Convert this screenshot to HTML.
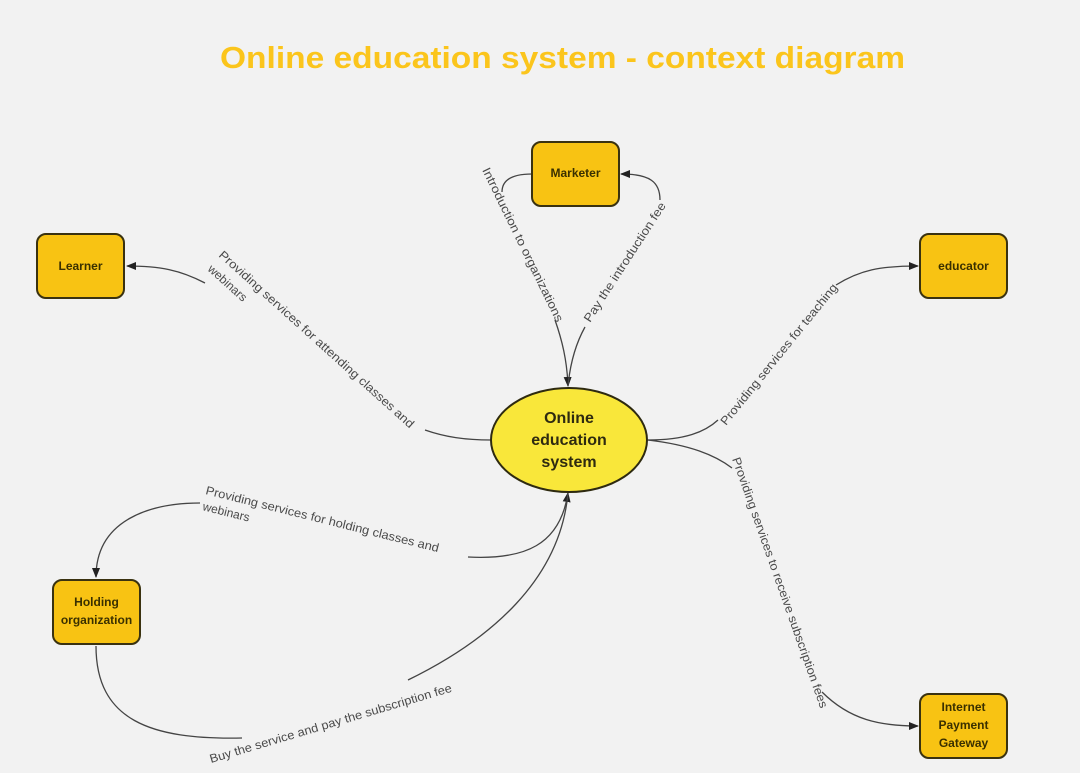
<!DOCTYPE html>
<html><head><meta charset="utf-8"><style>
html,body{margin:0;padding:0;background:#f2f2f2;}
svg{display:block;font-family:"Liberation Sans","DejaVu Sans",sans-serif;}
.lbl{font-size:12px;fill:#4a4a4a;}
.box{fill:#f8c313;stroke:#3a3210;stroke-width:2;}
.bt{font-size:12px;font-weight:bold;fill:#3a3000;text-anchor:middle;}
.ln{fill:none;stroke:#444;stroke-width:1.3;}
</style></head><body>
<svg width="1080" height="773" viewBox="0 0 1080 773">
<defs><marker id="a" markerWidth="10" markerHeight="8" refX="9" refY="4" orient="auto" markerUnits="userSpaceOnUse"><path d="M0,0 L10,4 L0,8 z" fill="#222"/></marker></defs>
<rect width="1080" height="773" fill="#f2f2f2"/>
<text x="220" y="68" font-size="31" font-weight="bold" fill="#fbc51c" textLength="685" lengthAdjust="spacingAndGlyphs">Online education system - context diagram</text>

<!-- connectors -->
<path class="ln" d="M491,440 C465,440 445,437 425,430"/>
<path class="ln" d="M205,283 C180,270 160,266 127,266" marker-end="url(#a)"/>
<path class="ln" d="M532,174 C512,174 502,180 502,192"/>
<path class="ln" d="M555,320 C562,340 567,360 568,386" marker-end="url(#a)"/>
<path class="ln" d="M585,327 C575,345 570,365 568,386"/>
<path class="ln" d="M660,200 C660,182 650,174 621,174" marker-end="url(#a)"/>
<path class="ln" d="M648,440 C685,440 705,432 718,420"/>
<path class="ln" d="M836,285 C860,270 880,266 918,266" marker-end="url(#a)"/>
<path class="ln" d="M648,440 C690,445 715,455 732,468"/>
<path class="ln" d="M822,692 C850,720 880,726 918,726" marker-end="url(#a)"/>
<path class="ln" d="M468,557 C525,560 560,545 568,493" marker-end="url(#a)"/>
<path class="ln" d="M200,503 C150,503 96,520 96,577" marker-end="url(#a)"/>
<path class="ln" d="M96,646 C96,720 150,740 242,738"/>
<path class="ln" d="M408,680 C490,640 560,580 568,493"/>

<!-- labels -->
<text class="lbl" transform="translate(218,256) rotate(42)" textLength="258" lengthAdjust="spacingAndGlyphs">Providing services for attending classes and</text>
<text class="lbl" transform="translate(207,270) rotate(42)">webinars</text>
<text class="lbl" transform="translate(482,170) rotate(64)" textLength="170" lengthAdjust="spacingAndGlyphs">Introduction to organizations</text>
<text class="lbl" transform="translate(590,323) rotate(-57)" textLength="140" lengthAdjust="spacingAndGlyphs">Pay the introduction fee</text>
<text class="lbl" transform="translate(726,426) rotate(-51)" textLength="178" lengthAdjust="spacingAndGlyphs">Providing services for teaching</text>
<text class="lbl" transform="translate(732,459) rotate(70.5)" textLength="265" lengthAdjust="spacingAndGlyphs">Providing services to receive subscription fees</text>
<text class="lbl" transform="translate(205,494) rotate(14)" textLength="240" lengthAdjust="spacingAndGlyphs">Providing services for holding classes and</text>
<text class="lbl" transform="translate(202,510) rotate(14)">webinars</text>
<text class="lbl" transform="translate(211,763) rotate(-16.5)" textLength="252" lengthAdjust="spacingAndGlyphs">Buy the service and pay the subscription fee</text>

<!-- nodes -->
<rect class="box" x="532" y="142" width="87" height="64" rx="9"/>
<text class="bt" x="575.5" y="177">Marketer</text>
<rect class="box" x="37" y="234" width="87" height="64" rx="9"/>
<text class="bt" x="80.5" y="270">Learner</text>
<rect class="box" x="920" y="234" width="87" height="64" rx="9"/>
<text class="bt" x="963.5" y="270">educator</text>
<rect class="box" x="53" y="580" width="87" height="64" rx="9"/>
<text class="bt" x="96.5" y="606">Holding</text>
<text class="bt" x="96.5" y="624">organization</text>
<rect class="box" x="920" y="694" width="87" height="64" rx="9"/>
<text class="bt" x="963.5" y="711">Internet</text>
<text class="bt" x="963.5" y="729">Payment</text>
<text class="bt" x="963.5" y="747">Gateway</text>

<ellipse cx="569" cy="440" rx="78" ry="52" fill="#f9e73a" stroke="#2e2a10" stroke-width="2"/>
<text x="569" y="423" text-anchor="middle" font-size="16" font-weight="bold" fill="#2e2a10">Online</text>
<text x="569" y="445" text-anchor="middle" font-size="16" font-weight="bold" fill="#2e2a10">education</text>
<text x="569" y="467" text-anchor="middle" font-size="16" font-weight="bold" fill="#2e2a10">system</text>
</svg>
</body></html>
